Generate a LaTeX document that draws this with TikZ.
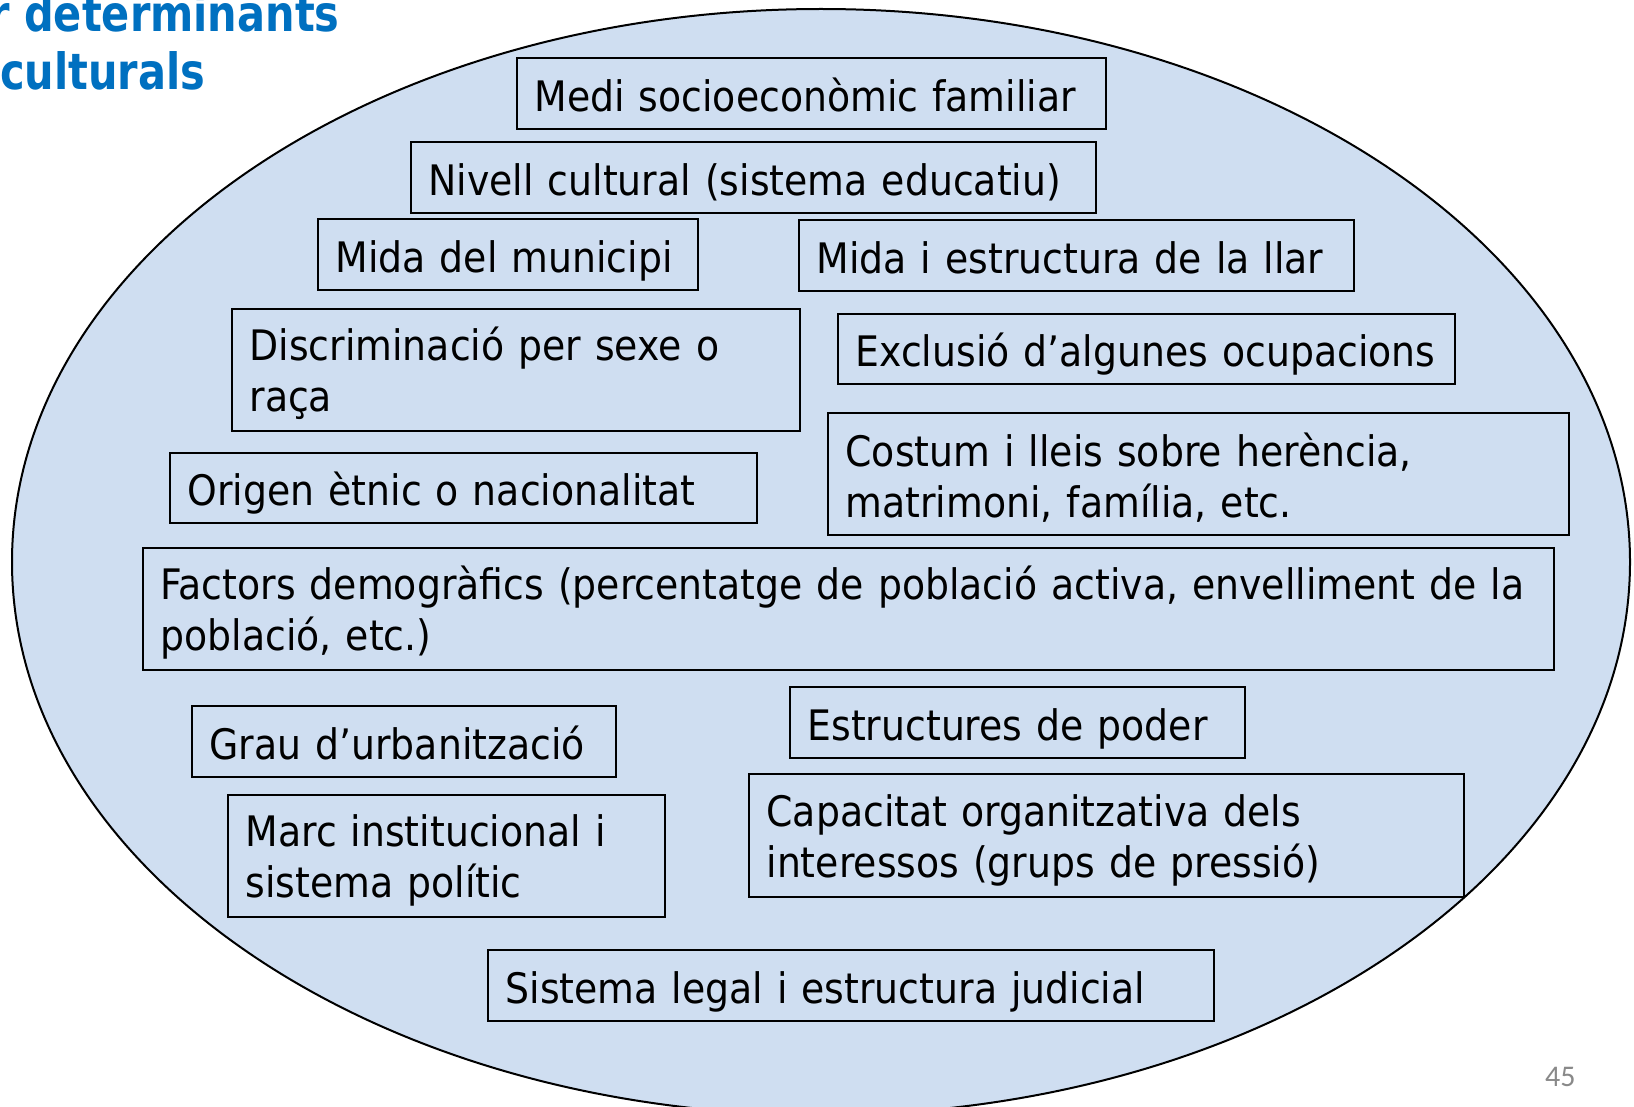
\documentclass[tikz,border=0pt]{standalone}
\usepackage{fontspec}
\setmainfont{DejaVu Sans}[FakeStretch=0.90]
\newfontfamily\titlefont{DejaVu Sans}[FakeStretch=0.83]
\newfontfamily\numfont{Carlito}
\definecolor{ellfill}{RGB}{207,222,241}
\definecolor{titleblue}{RGB}{0,112,192}
\definecolor{numgray}{RGB}{137,137,137}
\newcommand\tstrut{\rule{0pt}{41pt}}
\begin{document}
\begin{tikzpicture}[x=1pt,y=-1pt,
  bxbase/.style={draw=black, line width=2pt, anchor=north west, align=left,
    inner xsep=17.5pt, inner ysep=0pt,
    font=\fontsize{42}{51}\selectfont},
  bx/.style={bxbase, text height=35.5pt, text depth=0pt},
  bxtwo/.style={bxbase},
  ttl/.style={text=titleblue, inner sep=0pt,
    font=\titlefont\bfseries\fontsize{50}{60}\selectfont}]
\useasboundingbox (0,0) rectangle (1634,1107);
\clip (0,0) rectangle (1634,1107);
\fill[white] (0,0) rectangle (1634,1107);
\draw[fill=ellfill, line width=2pt] (821,562) ellipse [x radius=809, y radius=553];

\node[ttl, anchor=base west] (t1) at (24,32) {\llap{r }determinants};
\node[ttl, anchor=base west] (t2) at (0,90) {culturals};

\node[bx, minimum width=589, minimum height=71, text width=554] (medi) at (516,57) {Medi socioeconòmic familiar};
\node[bx, minimum width=685, minimum height=71, text width=650] (nivell) at (410,141) {Nivell cultural (sistema educatiu)};
\node[bx, minimum width=380, minimum height=71, text width=345] (mun) at (317,218) {Mida del municipi};
\node[bx, minimum width=555, minimum height=71, text width=520] (llar) at (798,219) {Mida i estructura de la llar};
\node[bxtwo, minimum width=568, minimum height=122, text width=533] (disc) at (231,308) {\tstrut Discriminació per sexe o\\raça};
\node[bx, minimum width=617, minimum height=70, text width=582] (excl) at (837,313) {Exclusió d’algunes ocupacions};
\node[bx, minimum width=587, minimum height=70, text width=552] (orig) at (169,452) {Origen ètnic o nacionalitat};
\node[bxtwo, minimum width=741, minimum height=122, text width=706] (cost) at (827,412) {\tstrut Costum i lleis sobre herència,\\matrimoni, família, etc.};
\node[bxtwo, minimum width=1411, minimum height=122, text width=1376] (fact) at (142,547) {\tstrut Factors demogràfics (percentatge de població activa, envelliment de la\\població, etc.)};
\node[bx, minimum width=424, minimum height=71, text width=389] (grau) at (191,705) {Grau d’urbanització};
\node[bx, minimum width=455, minimum height=71, text width=420] (poder) at (789,686) {Estructures de poder};
\node[bxtwo, minimum width=437, minimum height=122, text width=402] (marc) at (227,794) {\tstrut Marc institucional i\\sistema polític};
\node[bxtwo, minimum width=715, minimum height=123, text width=680] (cap) at (748,773) {\tstrut Capacitat organitzativa dels\\interessos (grups de pressió)};
\node[bx, minimum width=726, minimum height=71, text width=691] (legal) at (487,949) {Sistema legal i estructura judicial};

\node[anchor=base west, text=numgray, inner sep=0pt,
  font=\numfont\fontsize{30}{36}\selectfont] (num) at (1545,1086) {45};
\end{tikzpicture}
\end{document}
